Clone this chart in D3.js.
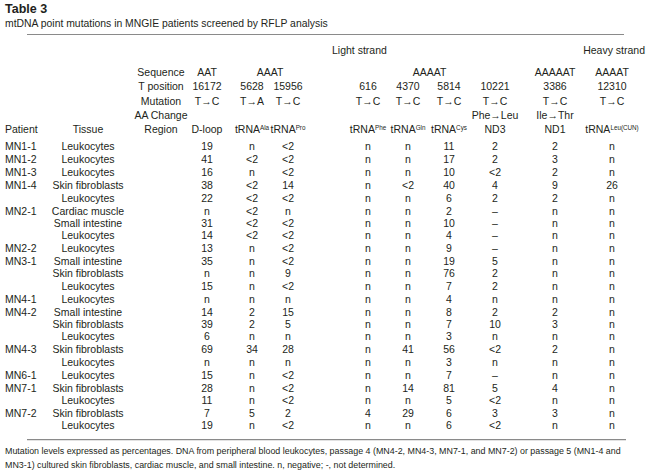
<!DOCTYPE html>
<html><head><meta charset="utf-8">
<script src="https://cdn.jsdelivr.net/npm/d3@7/dist/d3.min.js"></script>
<style>
html,body{margin:0;padding:0;background:#fff;}
svg{display:block;font-family:"Liberation Sans",Arial,sans-serif;}
</style></head><body>
<svg id="c" width="651" height="472"></svg>
<script>
// ---------- data ----------
const title = "Table 3";
const subtitle = "mtDNA point mutations in MNGIE patients screened by RFLP analysis";
const colKeys = ["dloop","ala","pro","phe","gln","cys","nd3","nd1","leu"];
const sequences = ["AAT","AAAT","","AAAAT","","","","AAAAAT","AAAAT"];
const tPositions = ["16172","5628","15956","616","4370","5814","10221","3386","12310"];
const mutations = ["T\u2192C","T\u2192A","T\u2192C","T\u2192C","T\u2192C","T\u2192C","T\u2192C","T\u2192C","T\u2192C"];
const aaChanges = ["","","","","","","Phe\u2192Leu","Ile\u2192Thr",""];
const regionBase = ["D-loop","tRNA","tRNA","tRNA","tRNA","tRNA","ND3","ND1","tRNA"];
const regionSup  = ["","Ala","Pro","Phe","Gln","Cys","","","Leu(CUN)"];
const rowLabels = ["Sequence","T position","Mutation","AA Change","Region"];
const patients = ["MN1-1","MN1-2","MN1-3","MN1-4","","MN2-1","","","MN2-2","MN3-1","","","MN4-1","MN4-2","","","MN4-3","","MN6-1","MN7-1","","MN7-2",""];
const tissues = ["Leukocytes","Leukocytes","Leukocytes","Skin fibroblasts","Leukocytes","Cardiac muscle","Small intestine","Leukocytes","Leukocytes","Small intestine","Skin fibroblasts","Leukocytes","Leukocytes","Small intestine","Skin fibroblasts","Leukocytes","Skin fibroblasts","Leukocytes","Leukocytes","Skin fibroblasts","Leukocytes","Skin fibroblasts","Leukocytes"];
const dloop = ["19","41","16","38","22","n","31","14","13","35","n","15","n","14","39","6","69","n","15","28","11","7","19"];
const ala   = ["n","<2","n","<2","<2","<2","<2","<2","n","n","n","n","n","2","2","n","34","n","n","n","n","5","n"];
const pro   = ["<2","<2","<2","14","<2","n","<2","<2","<2","<2","9","<2","n","15","5","n","28","n","<2","<2","<2","2","<2"];
const phe   = ["n","n","n","n","n","n","n","n","n","n","n","n","n","n","n","n","n","n","n","n","n","4","n"];
const gln   = ["n","n","n","<2","n","n","n","n","n","n","n","n","n","n","n","n","41","n","n","14","n","29","n"];
const cys   = ["11","17","10","40","6","2","10","4","9","19","76","7","4","8","7","3","56","3","7","81","5","6","6"];
const nd3   = ["2","2","<2","4","2","\u2013","\u2013","\u2013","\u2013","5","2","2","n","2","10","n","<2","n","\u2013","5","<2","3","<2"];
const nd1   = ["2","3","2","9","2","n","n","n","n","n","n","n","n","2","3","n","2","n","n","4","n","3","n"];
const leu   = ["n","n","n","26","n","n","n","n","n","n","n","n","n","n","n","n","n","n","n","n","n","n","n"];
const footnote = ["Mutation levels expressed as percentages. DNA from peripheral blood leukocytes, passage 4 (MN4-2, MN4-3, MN7-1, and MN7-2) or passage 5 (MN1-4 and",
                  "MN3-1) cultured skin fibroblasts, cardiac muscle, and small intestine. n, negative; -, not determined."];

// ---------- layout ----------
const svg = d3.select("#c");
const ink = "#231f20";
const fs = 10.5;
const series = [dloop,ala,pro,phe,gln,cys,nd3,nd1,leu];

const x = d3.scaleOrdinal().domain(colKeys).range([207,252,288,368,408,449,495,555,612]);
const xPatient = 5, xTissue = 88, xLabel = 161;

// row y: a new patient gets slightly more gap than a continuation row
let acc = 0; const ys = [];
patients.forEach((p,i)=>{ if(i>0) acc += (p ? 13.1 : 12.2); ys.push(acc); });
const y = d3.scaleLinear().domain([0,1]).range([150,151]);
const rowY = i => y(ys[i]);
const headY = d3.scalePoint().domain(rowLabels).range([76,133]);

svg.append("text").attr("x",5).attr("y",13).attr("font-weight","bold").attr("font-size",12.5).attr("fill",ink).text(title);
svg.append("text").attr("x",5).attr("y",27).attr("font-size",10.4).attr("fill",ink).text(subtitle);
svg.append("line").attr("x1",27).attr("x2",624).attr("y1",34.5).attr("y2",34.5).attr("stroke","#8a8a8a").attr("stroke-width",1.2);
svg.append("text").attr("x",332).attr("y",54).attr("font-size",fs).attr("fill",ink).text("Light strand");
svg.append("text").attr("x",645).attr("y",54).attr("text-anchor","end").attr("font-size",fs).attr("fill",ink).text("Heavy strand");

// header labels
svg.selectAll("text.rl").data(rowLabels).join("text").attr("class","rl")
  .attr("x",xLabel).attr("y",d=>headY(d)).attr("text-anchor","middle").attr("font-size",fs).attr("fill",ink).text(d=>d);
svg.append("text").attr("x",xPatient).attr("y",headY("Region")).attr("font-size",fs).attr("fill",ink).text("Patient");
svg.append("text").attr("x",xTissue).attr("y",headY("Region")).attr("text-anchor","middle").attr("font-size",fs).attr("fill",ink).text("Tissue");

// sequence row (spanning groups)
colKeys.forEach((k,i)=>{
  if(!sequences[i]) return;
  let cx = x(k);
  if(k==="ala") cx = (x("ala")+x("pro"))/2;
  if(k==="phe") cx = (x("phe")+x("nd3"))/2 - 2;
  svg.append("text").attr("x",cx).attr("y",headY("Sequence")).attr("text-anchor","middle").attr("font-size",fs).attr("fill",ink).text(sequences[i]);
});
[[tPositions,"T position"],[mutations,"Mutation"],[aaChanges,"AA Change"]].forEach(([arr,lab])=>{
  svg.selectAll(null).data(colKeys.filter((d,i)=>arr[i])).join("text")
    .attr("x",d=>x(d)).attr("y",headY(lab)).attr("text-anchor","middle").attr("font-size",fs).attr("fill",ink)
    .text(d=>arr[colKeys.indexOf(d)]);
});
const reg = svg.selectAll(null).data(colKeys).join("text")
  .attr("x",d=>x(d)).attr("y",headY("Region")).attr("text-anchor","middle").attr("font-size",fs).attr("fill",ink);
reg.append("tspan").text((d,i)=>regionBase[i]);
reg.append("tspan").attr("font-size",6.3).attr("dy",-3.5).text((d,i)=>regionSup[i]);

// body
svg.selectAll("text.p").data(patients).join("text").attr("class","p")
  .attr("x",xPatient).attr("y",(d,i)=>rowY(i)).attr("font-size",fs).attr("fill",ink).text(d=>d);
svg.selectAll("text.t").data(tissues).join("text").attr("class","t")
  .attr("x",xTissue).attr("y",(d,i)=>rowY(i)).attr("text-anchor","middle").attr("font-size",fs).attr("fill",ink).text(d=>d);
series.forEach((s,ci)=>{
  svg.selectAll(null).data(s).join("text")
    .attr("x",x(colKeys[ci])).attr("y",(d,i)=>rowY(i)).attr("text-anchor","middle").attr("font-size",fs).attr("fill",ink).text(d=>d);
});

const lastY = rowY(patients.length-1);
svg.append("line").attr("x1",27).attr("x2",626).attr("y1",lastY+10.5).attr("y2",lastY+10.5).attr("stroke","#8a8a8a").attr("stroke-width",1.2);
footnote.forEach((t,i)=>{
  svg.append("text").attr("x",5).attr("y",lastY+25+i*13.5).attr("font-size",8.9).attr("fill",ink).text(t);
});
</script></body></html>
